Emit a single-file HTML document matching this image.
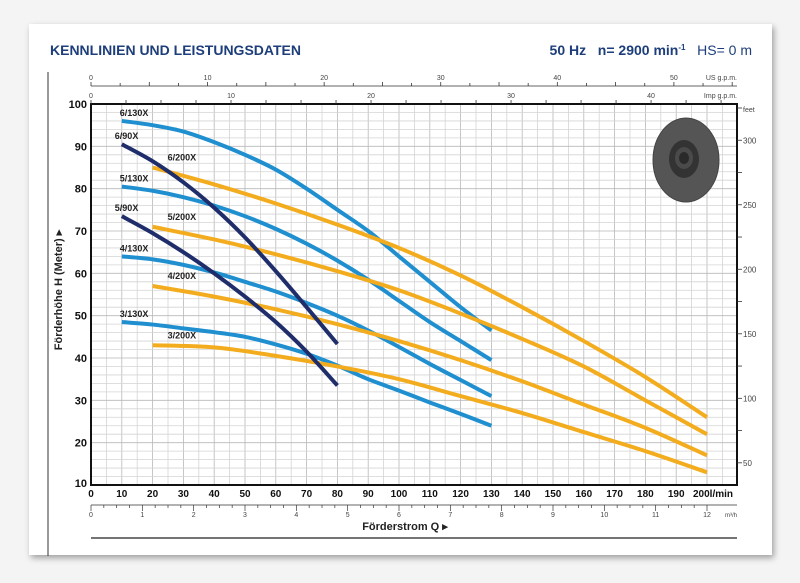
<!DOCTYPE html>
<html><head><meta charset="utf-8">
<style>
html,body{margin:0;padding:0;background:#f4f4f4;}
body{width:800px;height:583px;position:relative;overflow:hidden;font-family:"Liberation Sans",sans-serif;}
#card{position:absolute;left:29px;top:24px;width:743px;height:531px;background:#fff;box-shadow:2px 3px 6px rgba(0,0,0,0.35);}
svg{position:absolute;left:0;top:0;}
</style></head>
<body>
<div id="card"></div>
<svg id="chart" width="800" height="583">
<text x="50" y="55" font-size="14" font-weight="bold" fill="#1d3e7a" style="font-family:'Liberation Sans Narrow','Liberation Sans',sans-serif">KENNLINIEN UND LEISTUNGSDATEN</text>
<text x="752" y="55" font-size="14" font-weight="bold" fill="#1d3e7a" text-anchor="end" style="font-family:'Liberation Sans Narrow','Liberation Sans',sans-serif">50 Hz&#160;&#160;&#160;n= 2900 min<tspan font-size="8" dy="-5">-1</tspan><tspan dy="5" font-weight="normal">&#160;&#160;&#160;HS= 0 m</tspan></text>
<line x1="48" y1="72" x2="48" y2="556" stroke="#333" stroke-width="1"/>
<line x1="91" y1="538" x2="737" y2="538" stroke="#222" stroke-width="1.2"/>
<g id="grid"></g>
<g id="axes"></g>
<g id="impeller">
<ellipse cx="686" cy="160" rx="33" ry="42" fill="#555" stroke="#444"/>
<ellipse cx="684" cy="159" rx="15" ry="19" fill="#333"/>
<ellipse cx="684" cy="158" rx="9" ry="11" fill="#4a4a4a"/>
<ellipse cx="684" cy="158" rx="5" ry="6" fill="#2a2a2a"/>
</g>
<g id="series"></g>
<text transform="translate(62,290) rotate(-90)" text-anchor="middle" font-size="11" font-weight="bold" fill="#222">Förderhöhe H (Meter) ▸</text>
<text x="405" y="530" text-anchor="middle" font-size="11" font-weight="bold" fill="#222">Förderstrom Q ▸</text>
</svg>
<script>
const xTicks=[0,10,20,30,40,50,60,70,80,90,100,110,120,130,140,150,160,170,180,190,200];
const yTicks=[10,20,30,40,50,60,70,80,90,100];
const feetTicks=[50,100,150,200,250,300];
const m3hTicks=[0,1,2,3,4,5,6,7,8,9,10,11,12];
const usTicks=[0,10,20,30,40,50];
const impTicks=[0,10,20,30,40];
const names=["6/130X","5/130X","4/130X","3/130X","6/90X","5/90X","6/200X","5/200X","4/200X","3/200X"];
const q130=[10,20,30,40,50,60,70,80,90,100,110,120,130];
const h6_130=[96,95,93.5,91,88,84.5,80,75,70,64,58,52,46.5];
const h5_130=[80.5,79.5,78,76,73.5,70.5,67,63,58.5,53.5,48.5,44,39.5];
const h4_130=[64,63.3,62,60.2,58,55.7,53,50,46.5,42.6,38.6,34.8,31];
const h3_130=[48.5,47.9,47,46.1,45,43.2,41,38.2,35,32.3,29.5,26.8,24];
const q90=[10,20,30,40,50,60,70,80];
const h6_90=[90.5,86.5,81.5,75.5,68.5,60.5,52,43.3];
const h5_90=[73.5,69.5,65,60,54.5,48.5,41.5,33.5];
const q200=[20,40,60,80,100,120,140,160,180,200];
const h6_200=[85,81,76.5,71.5,66,59.5,52,44,35.5,26];
const h5_200=[71,68,64.5,60.5,56,50.5,44.5,38,30,22];
const h4_200=[57,54.5,51.5,48,44,39.5,34.5,29,23.5,17];
const h3_200=[43,42.5,40.5,38,35,31,27,22.5,18,13];

const NS="http://www.w3.org/2000/svg";
const X0=91,X1=707,Y0=485,Y1=104,RIGHT=737;
const xs=q=>X0+(q/200)*(X1-X0);
const ys=h=>Y0-(h-10)/90*(Y0-Y1);
function mk(tag,attrs,parent){const e=document.createElementNS(NS,tag);for(const k in attrs)e.setAttribute(k,attrs[k]);parent.appendChild(e);return e;}
const grid=document.getElementById('grid'),axes=document.getElementById('axes'),ser=document.getElementById('series');
for(let q=5;q<=210;q+=5){const x=xs(q);if(x>=RIGHT)break;const l=mk('line',{x1:x,y1:Y1,x2:x,y2:Y0,stroke:q%10===0?'#b8b8b8':'#d4d4d4','stroke-width':0.8},grid);

}
for(let h=12;h<100;h+=2){const y=ys(h);const l=mk('line',{x1:X0,y1:y,x2:RIGHT,y2:y,stroke:h%10===0?'#b8b8b8':'#d4d4d4','stroke-width':0.8},grid);

}
const frame=mk('rect',{x:X0,y:Y1,width:RIGHT-X0,height:Y0-Y1,fill:'none',stroke:'#111','stroke-width':2},axes);


xTicks.forEach(q=>{const t=mk('text',{x:xs(q)+(q===200?6:0),y:Y0+12,'text-anchor':'middle','font-size':10,'font-weight':'bold',fill:'#111'},axes);t.textContent=q===200?'200l/min':q;

});
mk('line',{x1:X0,y1:505,x2:RIGHT,y2:505,stroke:'#333','stroke-width':0.8},axes);
for(let m=0;m<=12.2;m+=0.25){const x=xs(m*1000/60);mk('line',{x1:x,y1:505,x2:x,y2:m%1===0?511:508,stroke:'#333','stroke-width':0.7},axes);}
m3hTicks.forEach(m=>{const t=mk('text',{x:xs(m*1000/60),y:517,'text-anchor':'middle','font-size':7,fill:'#444'},axes);t.textContent=m;

});
const mu=mk('text',{x:RIGHT,y:517,'text-anchor':'end','font-size':6,fill:'#444'},axes);mu.textContent='m³/h';
yTicks.forEach(h=>{const t=mk('text',{x:X0-4,y:ys(h)+(h===10?2:4),'text-anchor':'end','font-size':11,'font-weight':'bold',fill:'#111'},axes);t.textContent=h;

});
for(let f=25;f<=325;f+=25){const y=ys(f/3.281);if(y<Y1||y>Y0)continue;mk('line',{x1:RIGHT,y1:y,x2:RIGHT+5,y2:y,stroke:'#333','stroke-width':0.8},axes);}
feetTicks.forEach(f=>{const t=mk('text',{x:RIGHT+6,y:ys(f/3.281)+3,'font-size':8,fill:'#444'},axes);t.textContent=f;

});
const ft=mk('text',{x:RIGHT+6,y:112,'font-size':7,fill:'#444'},axes);ft.textContent='feet';
mk('line',{x1:X0,y1:86,x2:RIGHT,y2:86,stroke:'#333','stroke-width':0.8},axes);
for(let g=0;g<=55;g+=2.5){const x=xs(g*3.785);if(x>RIGHT)break;mk('line',{x1:x,y1:86,x2:x,y2:g%5===0?82:83,stroke:'#333','stroke-width':0.8},axes);}
usTicks.forEach(g=>{const t=mk('text',{x:xs(g*3.785),y:80,'text-anchor':'middle','font-size':7,fill:'#444'},axes);t.textContent=g;

});
const us=mk('text',{x:RIGHT,y:80,'text-anchor':'end','font-size':7,fill:'#444'},axes);us.textContent='US g.p.m.';
for(let g=0;g<=46;g+=2.5){const x=xs(g*4.546);if(x>RIGHT)break;mk('line',{x1:x,y1:Y1,x2:x,y2:Y1-4,stroke:'#333','stroke-width':0.8},axes);}
impTicks.forEach(g=>{const t=mk('text',{x:xs(g*4.546),y:98,'text-anchor':'middle','font-size':7,fill:'#444'},axes);t.textContent=g;

});
const im=mk('text',{x:RIGHT,y:98,'text-anchor':'end','font-size':7,fill:'#444'},axes);im.textContent='Imp g.p.m.';
const BLUE='#1f8fd0',NAVY='#1f2d6b',ORANGE='#f3ac1e';
const series=[[names[0],q130,h6_130,BLUE],[names[1],q130,h5_130,BLUE],[names[2],q130,h4_130,BLUE],[names[3],q130,h3_130,BLUE],
[names[6],q200,h6_200,ORANGE],[names[7],q200,h5_200,ORANGE],[names[8],q200,h4_200,ORANGE],[names[9],q200,h3_200,ORANGE],
[names[4],q90,h6_90,NAVY],[names[5],q90,h5_90,NAVY]];
function smooth(pts){let d=`M${pts[0][0]},${pts[0][1]}`;for(let i=0;i<pts.length-1;i++){const p0=pts[i-1]||pts[i],p1=pts[i],p2=pts[i+1],p3=pts[i+2]||p2;
d+=` C${p1[0]+(p2[0]-p0[0])/6},${p1[1]+(p2[1]-p0[1])/6} ${p2[0]-(p3[0]-p1[0])/6},${p2[1]-(p3[1]-p1[1])/6} ${p2[0]},${p2[1]}`;}return d;}
series.forEach(([n,q,h,c])=>{const pts=q.map((v,i)=>[xs(v),ys(h[i])]);
const p=mk('path',{d:smooth(pts),fill:'none',stroke:c,'stroke-width':4},ser);


const t=mk('text',{x:pts[0][0]+(c===NAVY?-7:-2),y:pts[0][1]-5+(c===ORANGE?-2:0),'font-size':9,'font-weight':'bold',fill:'#222'},ser);
if(c===ORANGE)t.setAttribute('x',pts[0][0]+15);
t.textContent=n;

});
</script>
</body></html>
